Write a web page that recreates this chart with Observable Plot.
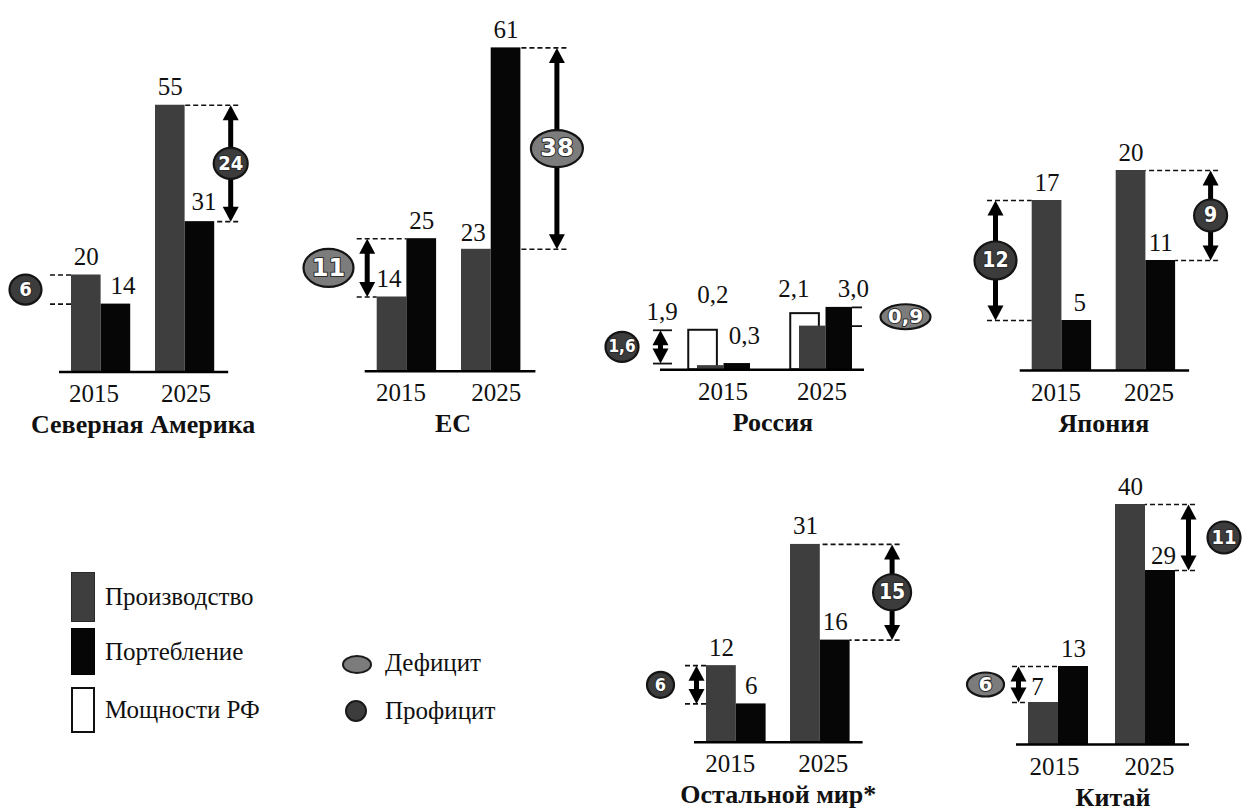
<!DOCTYPE html>
<html>
<head>
<meta charset="utf-8">
<script src="https://cdn.jsdelivr.net/npm/d3@7"></script>
<script src="https://cdn.jsdelivr.net/npm/@observablehq/plot@0.6"></script>
<style>
  body { margin: 0; background: #fff; }
  #chart { position: relative; width: 1242px; height: 811px; overflow: hidden; background: #fff;
           font-family: "Liberation Serif", "Times New Roman", serif; color: #111; }
  #chart svg { position: absolute; overflow: visible; }
  .sw { position: absolute; box-sizing: border-box; }
  .lt { position: absolute; font-size: 25px; line-height: 30px; white-space: nowrap; transform: translateY(-50%);
        font-family: "Liberation Serif", "Times New Roman", serif; }
</style>
</head>
<body>
<div id="chart"></div>
<script>
// Regions, years and series
const regions = ["Северная Америка", "ЕС", "Россия", "Япония", "Остальной мир*", "Китай"];
const years = [2015, 2025];
const series = ["Производство", "Портебление"];

// Values per region, in the order of `regions`
const production2015 = [20, 14, 0.2, 17, 12, 7];
const production2025 = [55, 23, 2.1, 20, 31, 40];
const consumption2015 = [14, 25, 0.3, 5, 6, 13];
const consumption2025 = [31, 61, 3.0, 11, 16, 29];
const capacityRussia = [1.9, 2.7]; // Мощности РФ

// Legend entries
const legendBars = ["Производство", "Портебление", "Мощности РФ"];
const legendBalance = ["Дефицит", "Профицит"];

// Styling
const prodColor = "#3e3e3e";
const consColor = "#060606";
const deficitFill = "#7c7c7c";
const surplusFill = "#3c3c3c";
const serif = "'Liberation Serif', 'Times New Roman', serif";
const badgeFont = "'DejaVu Sans Condensed', 'DejaVu Sans', sans-serif";

// Panel geometry (page pixels). x0: left edge of the first bar, bw: bar width,
// step: distance between the year groups, base: baseline, pu: pixels per unit.
// Note offsets are pixels outward from the group edge.
const panels = [
  { region: 0, left: 0, top: 0, width: 290, height: 450, x0: 71, bw: 29.6, step: 84, base: 371.5, pu: 4.85,
    edge: [12, 14], yearNudge: [-7, 1], titleNudge: 0,
    notes: [
      { year: 0, arrow: null, outer: 21, badge: 46, rx: 16, ry: 15, fs: 20 },
      { year: 1, arrow: 16, outer: 24, badge: 16, rx: 17, ry: 15.5, fs: 20 }],
    nudge: { "1-0": [7, 0], "1-1": [4, -2] } },
  { region: 1, left: 290, top: 0, width: 300, height: 450, x0: 376.7, bw: 29.7, step: 84.3, base: 370.7, pu: 5.3,
    edge: [12, 15], yearNudge: [-6, 5], titleNudge: 4,
    notes: [
      { year: 0, arrow: 10, outer: 20, badge: 48.7, rx: 25, ry: 19, fs: 24 },
      { year: 1, arrow: 36, outer: 46, badge: 36, rx: 26, ry: 18.5, fs: 24 }],
    nudge: { "0-0": [-3, 0], "0-1": [-3, 2] } },
  { region: 2, left: 590, top: 0, width: 360, height: 450, x0: 697, bw: 26.5, step: 102, base: 369.3, pu: 20.8,
    edge: [37, 12], yearNudge: [-1, -4], titleNudge: -2, decimals: true, capacity: true,
    notes: [
      { year: 0, supply: "capacity", arrow: 37, outer: 44, inner: 25, solid: true, badge: 75.5, rx: 16.5, ry: 15, fs: 17 },
      { year: 1, arrow: null, outer: 10, solid: true, badge: 53, rx: 25, ry: 12.5, fs: 20 }],
    nudge: { "0-0": [2, -53], "1-0": [7, -10], "0-1": [-19, -19], "1-1": [14, 0] },
    capNudge: { 0: [-41, 0] } },
  { region: 3, left: 950, top: 0, width: 292, height: 450, x0: 1031.7, bw: 29.7, step: 84, base: 370, pu: 10,
    edge: [12, 14], yearNudge: [-6, 3], titleNudge: 0,
    notes: [
      { year: 0, arrow: 36.7, outer: 44.7, badge: 36.7, rx: 21, ry: 19, fs: 21 },
      { year: 1, arrow: 35, outer: 43, badge: 35, rx: 16.5, ry: 16, fs: 21 }],
    nudge: { "1-0": [3, 0] } },
  { region: 4, left: 600, top: 450, width: 330, height: 361, x0: 706, bw: 29.8, step: 84, base: 741.7, pu: 6.38,
    edge: [12, 13], yearNudge: [-6, 3], titleNudge: 0,
    notes: [
      { year: 0, arrow: 10, outer: 21, badge: 46, rx: 13.5, ry: 13, fs: 18 },
      { year: 1, arrow: 42, outer: 50, badge: 42, rx: 19, ry: 18, fs: 21 }],
    nudge: {} },
  { region: 5, left: 930, top: 450, width: 312, height: 361, x0: 1028, bw: 30, step: 87, base: 744, pu: 6.0,
    edge: [12, 14], yearNudge: [-4, 4], titleNudge: 11,
    notes: [
      { year: 0, arrow: 10, outer: 16, badge: 43, rx: 18.5, ry: 12, fs: 20 },
      { year: 1, arrow: 13, outer: 20, badge: 48.5, rx: 16.5, ry: 16, fs: 20 }],
    nudge: { "0-0": [-6, 2], "1-1": [3, 3] } }
];

// Ellipse outline used for the balance badges
function ellipse(rx, ry) {
  const k = 0.5523, ox = rx * k, oy = ry * k;
  return {
    draw(ctx) {
      ctx.moveTo(-rx, 0);
      ctx.bezierCurveTo(-rx, -oy, -ox, -ry, 0, -ry);
      ctx.bezierCurveTo(ox, -ry, rx, -oy, rx, 0);
      ctx.bezierCurveTo(rx, oy, ox, ry, 0, ry);
      ctx.bezierCurveTo(-ox, ry, -rx, oy, -rx, 0);
      ctx.closePath();
    }
  };
}
// Arrow heads with the tip at the anchor point
const headUp = { draw(ctx) { ctx.moveTo(0, 0); ctx.lineTo(8, 15); ctx.lineTo(-8, 15); ctx.closePath(); } };
const headDown = { draw(ctx) { ctx.moveTo(0, 0); ctx.lineTo(8, -15); ctx.lineTo(-8, -15); ctx.closePath(); } };

function buildPanel(p) {
  const i = p.region;
  const prod = [production2015[i], production2025[i]];
  const cons = [consumption2015[i], consumption2025[i]];
  const cap = p.capacity ? capacityRussia : null;
  const G = p.step / p.bw;              // slot of the second group
  const start = y => y * G;
  const px = d => d / p.bw;             // pixels -> x units
  const pv = d => d / p.pu;             // pixels -> value units
  const fmt = p.decimals ? v => v.toFixed(1).replace(".", ",") : v => String(Math.round(v * 10) / 10);

  const rows = years.flatMap((yr, y) => [
    { series: series[0], s: 0, y, value: prod[y] },
    { series: series[1], s: 1, y, value: cons[y] }
  ]);

  const notes = p.notes.map(n => {
    const supply = n.supply === "capacity" ? cap[n.year] : prod[n.year];
    const demand = cons[n.year];
    const hi = Math.max(supply, demand), lo = Math.min(supply, demand);
    const dir = n.year === 0 ? -1 : 1;
    const edge = n.year === 0 ? 0 : G + 2;
    const at = d => edge + dir * px(d);
    const reach = v => n.inner != null ? at(n.inner)
      : n.year === 0 ? (prod[0] >= v ? 0 : 1)
      : (cons[1] >= v ? G + 2 : G + 1);
    return {
      ...n, hi, lo, mid: (hi + lo) / 2,
      deficit: demand > supply,
      label: fmt(Math.abs(supply - demand)),
      ax: n.arrow == null ? null : at(n.arrow),
      bx: at(n.badge),
      lines: [hi, lo].map(v => ({ v, x1: at(n.outer), x2: reach(v), solid: !!n.solid }))
    };
  });
  const lines = notes.flatMap(n => n.lines);
  const arrows = notes.filter(n => n.ax != null);

  const marks = [];
  if (cap) {
    marks.push(Plot.rect(years, {
      x1: (d, y) => start(y) - 0.33, x2: (d, y) => start(y) + 0.75,
      y1: () => 0, y2: (d, y) => cap[y],
      fill: "white", stroke: "#111", strokeWidth: 2
    }));
  }
  marks.push(
    Plot.rect(rows, {
      x1: d => start(d.y) + d.s, x2: d => start(d.y) + d.s + 1,
      y1: () => 0, y2: "value", fill: "series"
    }),
    Plot.ruleY([0], { x1: () => -px(p.edge[0]), x2: () => G + 2 + px(p.edge[1]), stroke: "#000", strokeWidth: 2.5 }),
    Plot.ruleY(lines.filter(l => !l.solid), { y: "v", x1: "x1", x2: "x2", stroke: "#111", strokeWidth: 1.6, strokeDasharray: "5,3" }),
    Plot.ruleY(lines.filter(l => l.solid), { y: "v", x1: "x1", x2: "x2", stroke: "#111", strokeWidth: 1.8 }),
    // shaft: y1 is the upper end so the insets pull both ends inward
    Plot.ruleX(arrows, { x: "ax", y1: "hi", y2: "lo", stroke: "#000", strokeWidth: 5, insetTop: 10, insetBottom: 10 }),
    Plot.dot(arrows, { x: "ax", y: "hi", symbol: headUp, fill: "#000", stroke: "none" }),
    Plot.dot(arrows, { x: "ax", y: "lo", symbol: headDown, fill: "#000", stroke: "none" })
  );
  notes.forEach(n => {
    marks.push(
      Plot.dot([n], {
        x: "bx", y: "mid", symbol: ellipse(n.rx, n.ry),
        fill: n.deficit ? deficitFill : surplusFill, stroke: "#141414", strokeWidth: 2.2
      }),
      Plot.text([n], {
        x: "bx", y: "mid", text: "label", fill: "white", stroke: "#2a2a2a", strokeWidth: 2,
        paintOrder: "stroke", fontFamily: n.deficit ? "'DejaVu Sans', sans-serif" : badgeFont,
        fontWeight: "bold", fontSize: n.fs, lineAnchor: "middle", textAnchor: "middle"
      })
    );
  });
  const nud = d => p.nudge[`${d.s}-${d.y}`] || [0, 0];
  marks.push(
    Plot.text(rows, {
      x: d => start(d.y) + d.s + 0.5 + px(nud(d)[0]),
      y: d => d.value - pv(nud(d)[1]),
      text: d => fmt(d.value), dy: -10, lineAnchor: "bottom",
      fontFamily: serif, fontSize: 25, fill: "#111"
    })
  );
  if (cap && p.capNudge) {
    const labelled = years.map((yr, y) => y).filter(y => p.capNudge[y]);
    marks.push(Plot.text(labelled, {
      x: y => start(y) + 0.21 + px(p.capNudge[y][0]),
      y: y => cap[y] - pv(p.capNudge[y][1]),
      text: y => fmt(cap[y]), dy: -10, lineAnchor: "bottom",
      fontFamily: serif, fontSize: 25, fill: "#111"
    }));
  }
  marks.push(
    Plot.text(years, {
      x: (d, y) => start(y) + 1 + px(p.yearNudge[y]), y: () => 0, text: d => String(d),
      dy: 22, lineAnchor: "middle", fontFamily: serif, fontSize: 25, fill: "#111"
    }),
    Plot.text([regions[i]], {
      x: () => (G + 2) / 2 + px(p.titleNudge), y: () => 0, text: d => d,
      dy: 61, lineAnchor: "bottom", fontFamily: serif, fontSize: 26, fontWeight: "bold", fill: "#111"
    })
  );

  const svg = Plot.plot({
    width: p.width, height: p.height,
    marginTop: 0, marginRight: 0, marginBottom: 0, marginLeft: 0,
    style: { background: "transparent", overflow: "visible", maxWidth: "none" },
    x: { domain: [(p.left - p.x0) / p.bw, (p.left + p.width - p.x0) / p.bw], axis: null },
    y: { domain: [(p.base - p.top - p.height) / p.pu, (p.base - p.top) / p.pu], axis: null },
    color: { domain: series, range: [prodColor, consColor] },
    marks
  });
  svg.style.left = p.left + "px";
  svg.style.top = p.top + "px";
  return svg;
}

const chart = document.getElementById("chart");
panels.forEach(p => chart.appendChild(buildPanel(p)));

// Legend
function add(tag, cls, css, text) {
  const el = document.createElement(tag);
  el.className = cls;
  Object.assign(el.style, css);
  if (text) el.textContent = text;
  chart.appendChild(el);
}
const barSwatches = [
  { top: 572, h: 50, bg: prodColor, border: "1px solid #2a2a2a" },
  { top: 628, h: 47, bg: consColor, border: "1px solid #000" },
  { top: 687, h: 46, bg: "#fff", border: "2px solid #111" }
];
legendBars.forEach((name, k) => {
  const s = barSwatches[k];
  add("div", "sw", { left: "71px", top: s.top + "px", width: "24px", height: s.h + "px", background: s.bg, border: s.border });
  add("div", "lt", { left: "105px", top: (s.top + s.h / 2) + "px" }, name);
});
const balSwatches = [
  { left: 342, top: 655, w: 30, h: 19, bg: deficitFill, cy: 663 },
  { left: 345, top: 700, w: 22, h: 22, bg: surplusFill, cy: 711 }
];
legendBalance.forEach((name, k) => {
  const s = balSwatches[k];
  add("div", "sw", { left: s.left + "px", top: s.top + "px", width: s.w + "px", height: s.h + "px",
    background: s.bg, border: "2px solid #1a1a1a", borderRadius: "50%" });
  add("div", "lt", { left: "385px", top: s.cy + "px" }, name);
});
</script>
</body>
</html>
